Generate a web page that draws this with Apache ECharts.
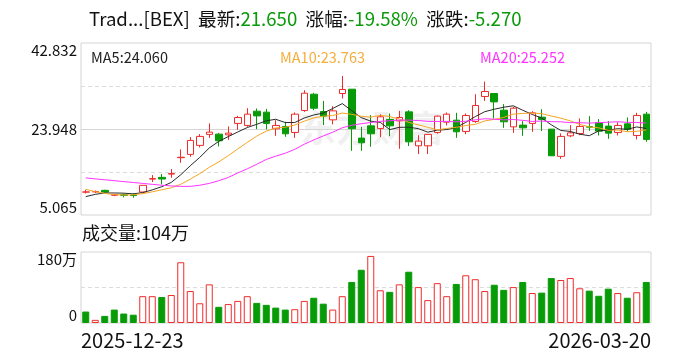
<!DOCTYPE html>
<html><head><meta charset="utf-8">
<script src="https://cdn.jsdelivr.net/npm/echarts@6/dist/echarts.min.js"></script>
<style>html,body{margin:0;padding:0;background:#fff}#c{width:688px;height:360px}</style>
</head><body><div id="c"></div>
<script>
const dates = ['2025-12-23','2025-12-24','2025-12-26','2025-12-29','2025-12-30','2025-12-31','2026-01-02','2026-01-05','2026-01-06','2026-01-07','2026-01-08','2026-01-09','2026-01-12','2026-01-13','2026-01-14','2026-01-15','2026-01-16','2026-01-20','2026-01-21','2026-01-22','2026-01-23','2026-01-26','2026-01-27','2026-01-28','2026-01-29','2026-01-30','2026-02-02','2026-02-03','2026-02-04','2026-02-05','2026-02-06','2026-02-09','2026-02-10','2026-02-11','2026-02-12','2026-02-13','2026-02-17','2026-02-18','2026-02-19','2026-02-20','2026-02-23','2026-02-24','2026-02-25','2026-02-26','2026-02-27','2026-03-02','2026-03-03','2026-03-04','2026-03-05','2026-03-06','2026-03-09','2026-03-10','2026-03-11','2026-03-12','2026-03-13','2026-03-16','2026-03-17','2026-03-18','2026-03-19','2026-03-20'];

const openP  = [10.10,10.15,10.48,9.40,9.50,9.45,10.11,12.95,13.33,14.05, 17.65,18.37,20.35,22.76,22.82,22.67,25.17,24.73,27.86,27.65, 23.99,24.51,23.19,28.02,31.59,27.79,25.96,31.74,32.69,21.95, 24.64,24.07,26.05,25.74,27.71,20.26,20.26,23.19,25.45,25.89, 23.41,25.60,31.09,31.74,28.08,24.42,24.80,25.17,26.55,23.92, 17.94,22.45,22.97,24.50,25.30,24.58,23.19,25.08,22.53,27.21];
const closeP = [10.12,10.20,10.10,9.50,9.40,9.35,11.58,13.05,12.96,14.15, 17.75,21.44,22.32,23.26,21.36,23.04,26.48,27.21,26.83,25.17, 24.73,22.89,27.21,31.81,28.52,26.77,27.93,32.62,24.00,20.92, 22.89,26.63,24.64,26.48,21.13,21.29,22.76,26.77,27.21,23.33, 26.92,29.11,32.18,29.90,25.53,28.52,24.20,27.50,26.05,18.07, 22.32,23.10,24.51,24.35,23.48,23.04,24.73,23.85,26.92,21.65];
const lowP   = [9.80,9.90,10.00,9.20,8.95,8.85,10.11,12.30,11.80,13.25, 16.53,17.85,19.90,22.01,20.13,21.57,23.77,24.42,23.92,23.85, 22.45,22.23,22.01,27.71,28.08,24.80,24.95,30.65,19.16,19.16, 20.04,22.16,22.38,19.60,20.20,18.44,18.44,22.90,24.73,22.01, 22.82,25.30,30.12,26.26,24.20,23.10,22.45,23.33,23.48,18.07, 17.41,22.16,22.60,23.55,22.53,21.79,22.53,23.41,21.66,21.13];
const highP  = [10.60,10.45,10.60,9.70,9.75,9.80,11.58,13.83,14.06,15.15, 19.47,22.16,22.82,25.17,23.10,24.51,26.83,28.52,28.45,28.37, 25.89,25.53,27.58,32.47,31.88,30.12,28.96,35.60,32.69,24.42, 26.99,27.21,27.36,27.93,28.08,22.60,22.76,26.90,27.58,27.50, 27.36,31.59,34.37,31.74,29.40,28.81,25.67,27.86,28.30,23.92, 22.97,24.80,26.26,26.77,26.12,25.67,25.45,26.48,27.50,27.71];

const ma5  = [9.10,9.60,9.90,9.90,9.86,9.71,9.99,10.58,11.27,12.22, 13.90,15.87,17.72,19.78,21.23,22.28,23.29,24.27,24.98,25.75, 26.08,25.37,25.37,26.36,27.03,27.44,28.45,29.53,27.97,26.45, 25.67,25.41,23.82,24.31,24.35,24.03,23.26,23.69,23.83,24.27, 25.40,26.67,27.75,28.29,28.73,29.05,28.07,27.13,26.36,24.87, 23.63,23.41,22.81,22.47,23.55,23.70,24.02,23.89,24.40,24.06];
const ma10 = [10.70,10.20,9.80,9.55,9.45,9.50,9.75,10.15,10.60,11.04, 11.80,12.93,14.15,15.53,16.72,18.09,19.58,21.00,22.38,23.49, 24.18,24.33,24.82,25.67,26.39,26.76,26.91,27.45,27.17,26.74, 26.56,26.93,26.67,26.14,25.40,24.85,24.34,23.75,24.07,24.31, 24.72,24.96,25.72,26.06,26.50,27.22,27.37,27.44,27.32,26.80, 26.34,25.74,24.97,24.42,24.21,23.66,23.72,23.35,23.44,23.76];
const ma20 = [13.20,13.00,12.80,12.60,12.40,12.20,12.00,11.80,11.60,11.45, 11.35,11.35,11.60,12.00,12.60,13.30,14.30,15.20,16.20,17.26, 17.99,18.63,19.48,20.60,21.56,22.43,23.24,24.22,24.77,25.11, 25.37,25.63,25.75,25.91,25.90,25.81,25.62,25.60,25.62,25.53, 25.64,25.95,26.20,26.10,25.95,26.04,25.85,25.60,25.70,25.56, 25.53,25.35,25.34,25.24,25.36,25.44,25.54,25.40,25.38,25.25];

const volumes = [29,8,18,34,24,21,68,68,66,71, 154,81,50,98,41,48,56,68,51,46, 39,34,35,56,64,49,34,68,104,135, 170,83,79,98,130,91,58,101,68,99, 121,111,81,97,84,91,104,76,77,114, 109,114,88,82,69,87,76,64,78,104];
const volUp   = [0,1,0,0,0,0,1,1,0,1, 1,1,1,1,0,1,1,1,0,0, 0,0,1,1,0,0,1,1,0,0, 1,1,0,1,0,1,1,1,1,0, 1,1,1,0,0,1,0,1,0,0, 1,1,1,0,0,0,1,0,1,0];

const priceTicks = ['5.065','23.948','42.832'];
const volTicks = ['0','180万'];
const headerName = 'Trad...[BEX]';
const headerItems = [['最新','21.650'],['涨幅','-19.58%'],['涨跌','-5.270']];
const maLabels = ['MA5:24.060','MA10:23.763','MA20:25.252'];
const volLabel = '成交量:104万';
const watermark = '东方财富';

const FONT = '"Noto Sans CJK SC", sans-serif';
const upColor = '#f02b2b', downColor = '#089b08';
const maColors = ['#2a2a2a', '#f5a623', '#ff33ff'];
const pMin = parseFloat(priceTicks[0]), pMax = parseFloat(priceTicks[2]);
const vMax = parseFloat(volTicks[1]);

function priceLabel(v) {
  if (Math.abs(v - pMin) < 0.01) return '{b|' + priceTicks[0] + '}';
  if (Math.abs(v - (pMin + pMax) / 2) < 0.01) return '{m|' + priceTicks[1] + '}';
  if (Math.abs(v - pMax) < 0.01) return '{t|' + priceTicks[2] + '}';
  return '';
}
function volLabelFmt(v) {
  if (Math.abs(v) < 0.01) return '{b|' + volTicks[0] + '}';
  if (Math.abs(v - vMax) < 0.01) return '{t|' + volTicks[1] + '}';
  return '';
}

const headerText = '{k|' + headerName + '}  ' + headerItems.map(h => '{k|' + h[0] + ':}{g|' + h[1] + '}').join('  ');

const labelRich = {
  t: {padding: [15, 0, 0, 0], fontSize: 15, color: '#111', fontFamily: FONT},
  b: {padding: [0, 0, 16, 0], fontSize: 15, color: '#111', fontFamily: FONT},
  m: {fontSize: 15, color: '#111', fontFamily: FONT}
};

const gridRect = {left: 81, right: 37};
const dashed = {color: '#dcdcdc', type: [4, 3], width: 1};

const option = {
  animation: false,
  backgroundColor: '#fff',
  textStyle: {fontFamily: FONT},
  title: [
    {left: 89, top: 10, padding: 0, text: headerText,
     textStyle: {fontSize: 18.6, fontWeight: 'normal', color: '#111', fontFamily: FONT,
       rich: {k: {fontSize: 18.6, color: '#111', fontFamily: FONT}, g: {fontSize: 18.6, color: '#0a9a0a', fontFamily: FONT}}}},
    {left: 91, top: 50, padding: 0, text: maLabels[0], textStyle: {fontSize: 14.5, fontWeight: 'normal', color: '#222', fontFamily: FONT}},
    {left: 280, top: 50, padding: 0, text: maLabels[1], textStyle: {fontSize: 14.5, fontWeight: 'normal', color: '#f5ad3c', fontFamily: FONT}},
    {left: 480, top: 50, padding: 0, text: maLabels[2], textStyle: {fontSize: 14.5, fontWeight: 'normal', color: '#ff33ff', fontFamily: FONT}},
    {left: 82, top: 224, padding: 0, text: volLabel, textStyle: {fontSize: 18, fontWeight: 'normal', color: '#111', fontFamily: FONT}}
  ],
  graphic: [
    {type: 'text', left: 300, top: 110, z: -10, silent: true,
     style: {text: watermark, fontSize: 36, fontWeight: 'bold', fill: 'rgba(0,0,0,0.06)', fontFamily: FONT}}
  ],
  grid: [
    Object.assign({top: 43, height: 172, show: true, borderColor: '#d4d4d4', borderWidth: 1, backgroundColor: 'transparent', outerBoundsMode: 'none', containLabel: false}, gridRect),
    Object.assign({top: 252, height: 71, show: true, borderColor: '#d4d4d4', borderWidth: 1, backgroundColor: 'transparent', outerBoundsMode: 'none', containLabel: false}, gridRect),
    Object.assign({top: 252, height: 71, show: false, outerBoundsMode: 'none', containLabel: false}, gridRect),
    Object.assign({top: 252, height: 71, show: false, outerBoundsMode: 'none', containLabel: false}, gridRect)
  ],
  xAxis: [
    {gridIndex: 0, type: 'category', data: dates, boundaryGap: true, axisLine: {show: false}, axisTick: {show: false}, axisLabel: {show: false}, splitLine: {show: false}},
    {gridIndex: 1, type: 'category', data: dates, boundaryGap: true, axisLine: {show: false}, axisTick: {show: false}, axisLabel: {show: false}, splitLine: {show: false}},
    {gridIndex: 2, type: 'category', data: dates, boundaryGap: false, axisLine: {show: false}, axisTick: {show: false}, splitLine: {show: false},
     axisLabel: {show: true, interval: (i) => i === 0, formatter: (v, i) => (i === 0 ? v : ''), align: 'left', margin: 7, fontSize: 20, color: '#111', fontFamily: FONT, showMinLabel: true, showMaxLabel: false}},
    {gridIndex: 3, type: 'category', data: dates, boundaryGap: false, axisLine: {show: false}, axisTick: {show: false}, splitLine: {show: false},
     axisLabel: {show: true, interval: (i) => i === dates.length - 1, formatter: (v, i) => (i === dates.length - 1 ? v : ''), align: 'right', margin: 7, fontSize: 20, color: '#111', fontFamily: FONT, showMinLabel: false, showMaxLabel: true}}
  ],
  yAxis: [
    {gridIndex: 0, type: 'value', min: pMin, max: pMax, interval: (pMax - pMin) / 4,
     axisLine: {show: false}, axisTick: {show: false},
     splitLine: {show: true, showMinLine: false, showMaxLine: false, lineStyle: dashed},
     axisLabel: {show: true, margin: 4, fontSize: 15, color: '#111', fontFamily: FONT, formatter: priceLabel, rich: labelRich}},
    {gridIndex: 0, type: 'value', min: pMin, max: pMax, interval: (pMax - pMin) / 2, position: 'right',
     axisLine: {show: false}, axisTick: {show: false}, axisLabel: {show: false},
     splitLine: {show: true, showMinLine: false, showMaxLine: false, lineStyle: {color: '#d6d6d6', type: 'solid', width: 1}}},
    {gridIndex: 1, type: 'value', min: 0, max: vMax, interval: vMax / 2,
     axisLine: {show: false}, axisTick: {show: false},
     splitLine: {show: true, showMinLine: false, showMaxLine: false, lineStyle: dashed},
     axisLabel: {show: true, margin: 4, fontSize: 15, color: '#111', fontFamily: FONT, formatter: volLabelFmt, rich: labelRich}},
    {gridIndex: 2, type: 'value', show: false},
    {gridIndex: 3, type: 'value', show: false}
  ],
  series: [
    {type: 'candlestick', xAxisIndex: 0, yAxisIndex: 0, barWidth: 7,
     data: dates.map((d, i) => [openP[i], closeP[i], lowP[i], highP[i]]),
     itemStyle: {color: '#ffffff', color0: downColor, borderColor: upColor, borderColor0: downColor, borderWidth: 1}},
    {type: 'line', xAxisIndex: 0, yAxisIndex: 0, data: ma5, showSymbol: false, symbol: 'none', lineStyle: {color: maColors[0], width: 1}, z: 3},
    {type: 'line', xAxisIndex: 0, yAxisIndex: 0, data: ma10, showSymbol: false, symbol: 'none', lineStyle: {color: maColors[1], width: 1}, z: 3},
    {type: 'line', xAxisIndex: 0, yAxisIndex: 0, data: ma20, showSymbol: false, symbol: 'none', lineStyle: {color: maColors[2], width: 1}, z: 3},
    {type: 'bar', xAxisIndex: 1, yAxisIndex: 2, barWidth: 7,
     data: volumes.map((v, i) => ({value: v, itemStyle: volUp[i]
       ? {color: '#ffffff', borderColor: upColor, borderWidth: 1}
       : {color: downColor, borderColor: downColor, borderWidth: 1}}))}
  ]
};

const chart = echarts.init(document.getElementById('c'), null, {renderer: 'canvas'});
chart.setOption(option);
</script>
</body></html>
